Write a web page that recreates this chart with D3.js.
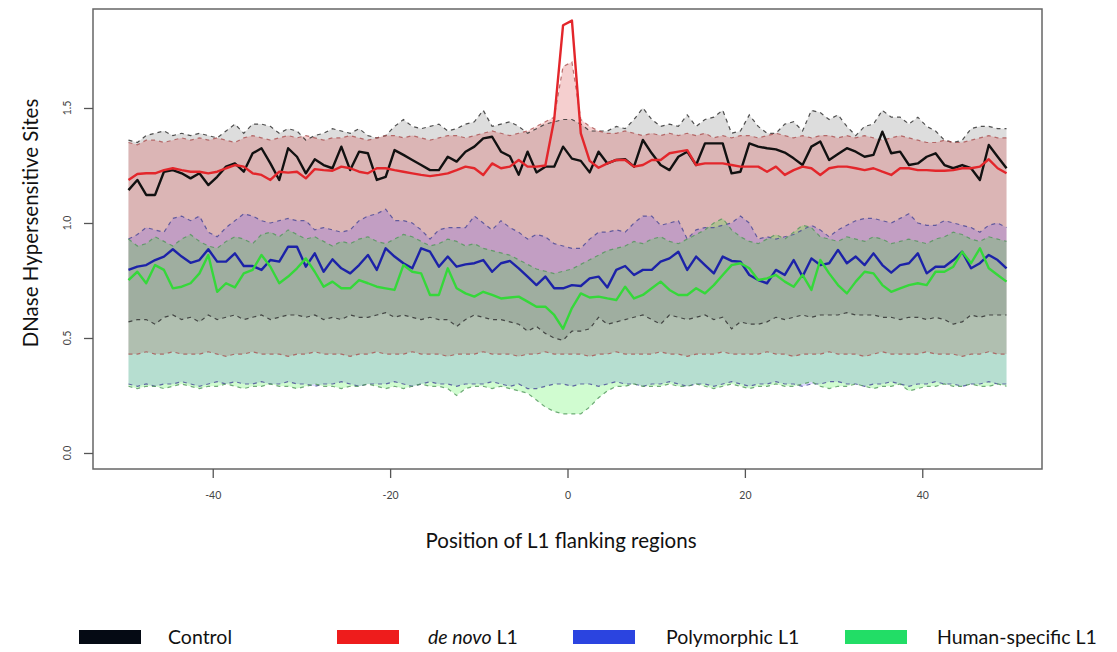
<!DOCTYPE html>
<html lang="en">
<head>
<meta charset="UTF-8">
<title>DNase Hypersensitive Sites</title>
<script src="https://d3js.org/d3.v7.min.js"></script>
<style>
  body { margin: 0; background: #fff; }
  text { font-family: Lato, "Open Sans", sans-serif; }
</style>
</head>
<body>
<script>
// positions of the 100 bins around the L1 insertion
const positions = d3.range(-49.5, 50, 1);

// mean signal per series
const controlMean = [
  1.143, 1.187, 1.122, 1.122, 1.223, 1.230, 1.216, 1.194, 1.216, 1.165,
  1.201, 1.245, 1.259, 1.223, 1.303, 1.325, 1.259, 1.187, 1.325, 1.288,
  1.216, 1.277, 1.252, 1.238, 1.332, 1.230, 1.310, 1.303, 1.187, 1.201,
  1.317, 1.296, 1.274, 1.252, 1.230, 1.230, 1.288, 1.267, 1.310, 1.332,
  1.368, 1.375, 1.310, 1.290, 1.210, 1.310, 1.220, 1.245, 1.245, 1.332,
  1.280, 1.270, 1.220, 1.310, 1.259, 1.274, 1.277, 1.245, 1.361, 1.303,
  1.252, 1.230, 1.288, 1.310, 1.252, 1.346, 1.346, 1.346, 1.216, 1.223,
  1.346, 1.332, 1.325, 1.320, 1.306, 1.281, 1.252, 1.332, 1.354, 1.274,
  1.300, 1.325, 1.310, 1.288, 1.296, 1.397, 1.303, 1.310, 1.252, 1.259,
  1.288, 1.303, 1.252, 1.238, 1.252, 1.238, 1.187, 1.339, 1.288, 1.238
];
const denovoMean = [
  1.187, 1.213, 1.216, 1.216, 1.230, 1.238, 1.230, 1.223, 1.223, 1.216,
  1.223, 1.238, 1.252, 1.245, 1.216, 1.209, 1.187, 1.223, 1.219, 1.223,
  1.194, 1.234, 1.230, 1.227, 1.245, 1.238, 1.223, 1.216, 1.238, 1.238,
  1.230, 1.223, 1.216, 1.209, 1.204, 1.209, 1.216, 1.230, 1.245, 1.238,
  1.209, 1.259, 1.238, 1.245, 1.274, 1.245, 1.245, 1.250, 1.450, 1.860,
  1.880, 1.390, 1.270, 1.240, 1.259, 1.274, 1.274, 1.245, 1.252, 1.274,
  1.274, 1.303, 1.310, 1.317, 1.252, 1.259, 1.259, 1.259, 1.252, 1.245,
  1.245, 1.245, 1.223, 1.245, 1.209, 1.230, 1.245, 1.238, 1.209, 1.238,
  1.245, 1.245, 1.238, 1.230, 1.238, 1.223, 1.209, 1.238, 1.238, 1.230,
  1.230, 1.227, 1.227, 1.230, 1.238, 1.238, 1.245, 1.277, 1.238, 1.216
];
const polyMean = [
  0.796, 0.810, 0.817, 0.839, 0.854, 0.886, 0.854, 0.827, 0.839, 0.886,
  0.832, 0.832, 0.868, 0.813, 0.813, 0.796, 0.839, 0.832, 0.897, 0.897,
  0.810, 0.868, 0.788, 0.842, 0.803, 0.781, 0.817, 0.861, 0.796, 0.890,
  0.854, 0.825, 0.803, 0.890, 0.875, 0.810, 0.854, 0.810, 0.820, 0.825,
  0.839, 0.788, 0.825, 0.835, 0.803, 0.767, 0.730, 0.767, 0.716, 0.716,
  0.730, 0.726, 0.759, 0.767, 0.720, 0.796, 0.813, 0.774, 0.796, 0.796,
  0.832, 0.846, 0.875, 0.796, 0.854, 0.817, 0.781, 0.854, 0.835, 0.832,
  0.774, 0.752, 0.738, 0.796, 0.774, 0.839, 0.767, 0.846, 0.817, 0.825,
  0.883, 0.825, 0.854, 0.817, 0.868, 0.817, 0.784, 0.817, 0.825, 0.868,
  0.781, 0.810, 0.810, 0.839, 0.875, 0.803, 0.825, 0.861, 0.839, 0.803
];
const humanMean = [
  0.752, 0.788, 0.738, 0.817, 0.796, 0.716, 0.723, 0.738, 0.781, 0.861,
  0.701, 0.738, 0.720, 0.781, 0.796, 0.861, 0.810, 0.738, 0.767, 0.803,
  0.846, 0.788, 0.723, 0.745, 0.716, 0.716, 0.752, 0.738, 0.723, 0.716,
  0.709, 0.817, 0.788, 0.781, 0.687, 0.687, 0.803, 0.716, 0.694, 0.680,
  0.701, 0.687, 0.672, 0.676, 0.680, 0.658, 0.636, 0.636, 0.600, 0.540,
  0.630, 0.694, 0.676, 0.680, 0.672, 0.665, 0.723, 0.672, 0.687, 0.716,
  0.745, 0.709, 0.687, 0.687, 0.716, 0.694, 0.730, 0.774, 0.817, 0.825,
  0.803, 0.752, 0.759, 0.774, 0.745, 0.723, 0.774, 0.709, 0.839, 0.781,
  0.730, 0.694, 0.745, 0.788, 0.781, 0.730, 0.701, 0.716, 0.730, 0.738,
  0.730, 0.788, 0.788, 0.810, 0.875, 0.825, 0.890, 0.803, 0.774, 0.745
];

// upper and lower band limits per series
const controlUpper = [
  1.36, 1.35, 1.38, 1.39, 1.40, 1.38, 1.39, 1.38, 1.39, 1.38,
  1.37, 1.40, 1.43, 1.39, 1.43, 1.43, 1.42, 1.39, 1.41, 1.40,
  1.36, 1.38, 1.39, 1.41, 1.40, 1.39, 1.41, 1.38, 1.37, 1.38,
  1.42, 1.45, 1.42, 1.41, 1.42, 1.43, 1.40, 1.41, 1.43, 1.44,
  1.49, 1.42, 1.43, 1.44, 1.42, 1.39, 1.41, 1.43, 1.44, 1.45,
  1.45, 1.43, 1.40, 1.40, 1.40, 1.42, 1.41, 1.45, 1.50, 1.45,
  1.42, 1.43, 1.42, 1.47, 1.42, 1.45, 1.46, 1.49, 1.39, 1.40,
  1.47, 1.42, 1.39, 1.39, 1.43, 1.44, 1.40, 1.49, 1.48, 1.45,
  1.47, 1.42, 1.38, 1.42, 1.43, 1.49, 1.46, 1.46, 1.43, 1.46,
  1.42, 1.40, 1.36, 1.35, 1.36, 1.41, 1.42, 1.42, 1.41, 1.41
];
const controlLower = [
  0.57, 0.58, 0.58, 0.56, 0.59, 0.60, 0.58, 0.59, 0.57, 0.60,
  0.58, 0.59, 0.60, 0.58, 0.59, 0.60, 0.58, 0.59, 0.60, 0.60,
  0.59, 0.60, 0.58, 0.59, 0.58, 0.60, 0.59, 0.59, 0.60, 0.61,
  0.59, 0.60, 0.59, 0.58, 0.59, 0.58, 0.58, 0.55, 0.58, 0.60,
  0.59, 0.58, 0.58, 0.57, 0.56, 0.53, 0.55, 0.52, 0.50, 0.49,
  0.53, 0.53, 0.54, 0.59, 0.56, 0.57, 0.58, 0.59, 0.60, 0.58,
  0.56, 0.60, 0.59, 0.58, 0.59, 0.60, 0.58, 0.59, 0.54, 0.57,
  0.56, 0.56, 0.57, 0.59, 0.58, 0.59, 0.60, 0.59, 0.60, 0.60,
  0.60, 0.61, 0.60, 0.60, 0.60, 0.59, 0.59, 0.58, 0.59, 0.59,
  0.58, 0.59, 0.58, 0.56, 0.57, 0.60, 0.59, 0.60, 0.60, 0.60
];
const denovoUpper = [
  1.35, 1.34, 1.36, 1.36, 1.35, 1.36, 1.37, 1.36, 1.37, 1.36,
  1.37, 1.36, 1.35, 1.37, 1.38, 1.37, 1.36, 1.37, 1.38, 1.37,
  1.38, 1.37, 1.36, 1.37, 1.37, 1.38, 1.37, 1.36, 1.37, 1.38,
  1.38, 1.37, 1.38, 1.37, 1.36, 1.37, 1.38, 1.38, 1.37, 1.38,
  1.39, 1.40, 1.39, 1.38, 1.39, 1.40, 1.42, 1.44, 1.46, 1.68,
  1.70, 1.45, 1.42, 1.40, 1.39, 1.39, 1.40, 1.39, 1.38, 1.39,
  1.38, 1.39, 1.38, 1.39, 1.38, 1.39, 1.37, 1.38, 1.37, 1.38,
  1.38, 1.37, 1.38, 1.39, 1.38, 1.37, 1.38, 1.37, 1.38, 1.38,
  1.37, 1.38, 1.37, 1.38, 1.37, 1.36, 1.37, 1.38, 1.37, 1.36,
  1.35, 1.35, 1.36, 1.35, 1.35, 1.36, 1.37, 1.38, 1.37, 1.37
];
const denovoLower = [
  0.43, 0.43, 0.44, 0.43, 0.43, 0.44, 0.43, 0.43, 0.43, 0.44,
  0.43, 0.42, 0.43, 0.43, 0.44, 0.43, 0.43, 0.43, 0.42, 0.43,
  0.43, 0.44, 0.43, 0.43, 0.43, 0.42, 0.43, 0.43, 0.44, 0.43,
  0.43, 0.43, 0.44, 0.43, 0.43, 0.43, 0.42, 0.43, 0.43, 0.43,
  0.44, 0.43, 0.43, 0.43, 0.42, 0.43, 0.43, 0.44, 0.43, 0.43,
  0.43, 0.43, 0.42, 0.43, 0.43, 0.44, 0.43, 0.43, 0.43, 0.43,
  0.44, 0.43, 0.43, 0.42, 0.43, 0.43, 0.43, 0.44, 0.43, 0.43,
  0.43, 0.43, 0.44, 0.43, 0.43, 0.42, 0.43, 0.43, 0.43, 0.44,
  0.43, 0.43, 0.43, 0.42, 0.43, 0.44, 0.43, 0.43, 0.43, 0.43,
  0.44, 0.43, 0.43, 0.43, 0.42, 0.43, 0.43, 0.44, 0.43, 0.43
];
const polyUpper = [
  0.93, 0.95, 0.98, 0.97, 0.96, 1.02, 1.03, 1.01, 1.03, 0.96,
  0.94, 0.98, 1.01, 1.04, 1.03, 1.01, 1.00, 1.01, 1.02, 1.01,
  1.01, 0.97, 0.98, 0.97, 0.96, 0.97, 1.01, 1.03, 1.04, 1.06,
  1.01, 1.01, 1.00, 0.97, 0.93, 0.97, 0.98, 0.98, 0.98, 1.03,
  1.00, 0.97, 1.01, 0.98, 0.96, 0.93, 0.95, 0.94, 0.91, 0.90,
  0.89, 0.89, 0.93, 0.96, 0.96, 0.97, 0.96, 1.00, 1.03, 1.03,
  0.99, 1.00, 1.01, 0.93, 0.97, 0.98, 0.98, 0.99, 1.00, 1.03,
  1.00, 0.93, 0.94, 0.93, 0.94, 0.95, 0.97, 0.99, 0.97, 0.94,
  0.97, 0.99, 1.01, 1.02, 1.02, 1.01, 1.00, 1.02, 1.04, 1.00,
  0.99, 0.99, 1.01, 1.00, 0.99, 0.98, 0.96, 0.99, 1.00, 0.98
];
const polyLower = [
  0.30, 0.29, 0.30, 0.29, 0.30, 0.30, 0.31, 0.30, 0.29, 0.30,
  0.31, 0.30, 0.31, 0.30, 0.30, 0.31, 0.30, 0.30, 0.31, 0.30,
  0.30, 0.29, 0.30, 0.30, 0.31, 0.30, 0.29, 0.30, 0.30, 0.30,
  0.31, 0.30, 0.29, 0.30, 0.31, 0.30, 0.30, 0.29, 0.30, 0.30,
  0.30, 0.31, 0.30, 0.29, 0.30, 0.28, 0.28, 0.29, 0.30, 0.30,
  0.29, 0.30, 0.30, 0.29, 0.30, 0.31, 0.30, 0.30, 0.29, 0.30,
  0.30, 0.31, 0.30, 0.29, 0.30, 0.30, 0.29, 0.30, 0.31, 0.30,
  0.29, 0.30, 0.30, 0.31, 0.30, 0.30, 0.29, 0.30, 0.30, 0.31,
  0.31, 0.30, 0.30, 0.29, 0.30, 0.30, 0.31, 0.30, 0.29, 0.30,
  0.30, 0.31, 0.30, 0.30, 0.29, 0.30, 0.30, 0.31, 0.30, 0.30
];
const humanUpper = [
  0.93, 0.90, 0.91, 0.94, 0.92, 0.90, 0.93, 0.95, 0.92, 0.90,
  0.89, 0.92, 0.94, 0.93, 0.91, 0.95, 0.96, 0.94, 0.97, 0.95,
  0.93, 0.94, 0.92, 0.90, 0.92, 0.91, 0.93, 0.94, 0.92, 0.91,
  0.93, 0.95, 0.94, 0.92, 0.90, 0.91, 0.93, 0.92, 0.90, 0.91,
  0.89, 0.88, 0.87, 0.86, 0.84, 0.82, 0.80, 0.79, 0.78, 0.79,
  0.80, 0.82, 0.84, 0.86, 0.88, 0.89, 0.90, 0.92, 0.91, 0.93,
  0.94, 0.92, 0.91, 0.93, 0.95, 0.97, 1.00, 1.02, 0.97, 0.94,
  0.92, 0.91, 0.93, 0.95, 0.93, 0.96, 0.99, 0.98, 0.94, 0.93,
  0.92, 0.94, 0.93, 0.92, 0.94, 0.93, 0.91, 0.92, 0.93, 0.92,
  0.91, 0.93, 0.94, 0.96, 0.95, 0.93, 0.92, 0.94, 0.93, 0.92
];
const humanLower = [
  0.29, 0.28, 0.29, 0.29, 0.28, 0.29, 0.30, 0.29, 0.28, 0.29,
  0.29, 0.30, 0.29, 0.28, 0.29, 0.29, 0.30, 0.29, 0.29, 0.28,
  0.29, 0.30, 0.29, 0.29, 0.28, 0.29, 0.29, 0.30, 0.29, 0.28,
  0.29, 0.28, 0.29, 0.30, 0.29, 0.29, 0.28, 0.25, 0.28, 0.29,
  0.29, 0.28, 0.29, 0.28, 0.27, 0.26, 0.23, 0.20, 0.18, 0.17,
  0.17, 0.17, 0.20, 0.24, 0.27, 0.29, 0.29, 0.30, 0.29, 0.29,
  0.29, 0.30, 0.29, 0.29, 0.30, 0.29, 0.28, 0.29, 0.30, 0.29,
  0.28, 0.29, 0.29, 0.30, 0.29, 0.29, 0.30, 0.31, 0.29, 0.28,
  0.29, 0.29, 0.30, 0.29, 0.28, 0.29, 0.29, 0.30, 0.27, 0.28,
  0.29, 0.29, 0.30, 0.29, 0.29, 0.30, 0.29, 0.29, 0.30, 0.29
];

const xTicks = [-40, -20, 0, 20, 40];
const yTicks = [0, 0.5, 1.0, 1.5];

// series in drawing order
const series = [
  { key: "control", mean: controlMean, upper: controlUpper, lower: controlLower,
    fill: "rgba(150,150,150,0.32)", dash: "rgba(50,50,50,0.85)", line: "#111111" },
  { key: "denovo", mean: denovoMean, upper: denovoUpper, lower: denovoLower,
    fill: "rgba(215,55,55,0.24)", dash: "rgba(170,80,80,0.8)", line: "#e3262b" },
  { key: "poly", mean: polyMean, upper: polyUpper, lower: polyLower,
    fill: "rgba(95,70,255,0.2)", dash: "rgba(70,70,150,0.8)", line: "#1c22a8" },
  { key: "human", mean: humanMean, upper: humanUpper, lower: humanLower,
    fill: "rgba(20,240,20,0.2)", dash: "rgba(80,150,90,0.8)", line: "#35d83a" }
];

const W = 1117, H = 652;
const svg = d3.select("body").append("svg")
    .attr("width", W)
    .attr("height", H);

const x = d3.scaleLinear().domain([-53.5, 53.5]).range([93, 1042]);
const y = d3.scaleLinear().domain([-0.0696, 1.9304]).range([469, 9]);

// shaded bands
const area = d3.area()
    .x((d, i) => x(positions[i]))
    .y0(d => y(d[0]))
    .y1(d => y(d[1]));

series.forEach(s => {
    svg.append("path")
        .datum(s.lower.map((v, i) => [v, s.upper[i]]))
        .attr("d", area)
        .attr("fill", s.fill);
});

// dashed band limits
const line = d3.line().x((d, i) => x(positions[i])).y(d => y(d));
series.forEach(s => {
    [s.upper, s.lower].forEach(arr => {
        svg.append("path")
            .datum(arr)
            .attr("d", line)
            .attr("fill", "none")
            .attr("stroke", s.dash)
            .attr("stroke-width", 1.2)
            .attr("stroke-dasharray", "4,4");
    });
});

// mean lines
series.forEach(s => {
    svg.append("path")
        .datum(s.mean)
        .attr("d", line)
        .attr("fill", "none")
        .attr("stroke", s.line)
        .attr("stroke-width", 2.4)
        .attr("stroke-linejoin", "round");
});

// plot frame
svg.append("rect")
    .attr("x", 93).attr("y", 9)
    .attr("width", 1042 - 93).attr("height", 469 - 9)
    .attr("fill", "none")
    .attr("stroke", "#666")
    .attr("stroke-width", 1.5);

// x axis
const xAxis = svg.append("g")
    .attr("transform", "translate(0,469)")
    .call(d3.axisBottom(x).tickValues(xTicks).tickSize(9).tickPadding(14)
        .tickFormat(d => d < 0 ? "-" + Math.abs(d) : d));
xAxis.select(".domain").remove();
xAxis.selectAll("line").attr("stroke", "#555").attr("stroke-width", 1.3);
xAxis.selectAll("text")
    .attr("font-family", "'Liberation Sans Narrow', 'Liberation Sans', sans-serif")
    .attr("font-size", 10.5)
    .attr("fill", "#444");

// y axis
const yAxis = svg.append("g")
    .attr("transform", "translate(93,0)")
    .call(d3.axisLeft(y).tickValues(yTicks).tickSize(9).tickFormat(""));
yAxis.select(".domain").remove();
yAxis.selectAll("line").attr("stroke", "#555").attr("stroke-width", 1.3);

svg.selectAll(".ytick")
    .data(yTicks)
    .enter().append("text")
    .attr("class", "ytick")
    .attr("transform", d => `translate(71,${y(d)}) rotate(-90)`)
    .attr("text-anchor", "middle")
    .attr("font-family", "'Liberation Sans Narrow', 'Liberation Sans', sans-serif")
    .attr("font-size", 10.5)
    .attr("fill", "#444")
    .text(d3.format(".1f"));

// axis titles
svg.append("text")
    .attr("x", 561).attr("y", 548)
    .attr("text-anchor", "middle")
    .attr("font-size", 20.5)
    .attr("fill", "#111")
    .text("Position of L1 flanking regions");

svg.append("text")
    .attr("transform", "translate(38,223) rotate(-90)")
    .attr("text-anchor", "middle")
    .attr("font-size", 20.5)
    .attr("fill", "#111")
    .text("DNase Hypersensitive Sites");

// legend
const legendItems = [
    { name: "Control", italic: "", color: "#050a14", bx: 79, tx: 168 },
    { name: " L1", italic: "de novo", color: "#ee1c1c", bx: 337, tx: 428 },
    { name: "Polymorphic L1", italic: "", color: "#2b44e0", bx: 573, tx: 666 },
    { name: "Human-specific L1", italic: "", color: "#22dd66", bx: 845, tx: 937 }
];

const leg = svg.selectAll(".legend")
    .data(legendItems)
    .enter().append("g")
    .attr("class", "legend");

leg.append("rect")
    .attr("x", d => d.bx).attr("y", 630)
    .attr("width", 62).attr("height", 14)
    .attr("fill", d => d.color);

const lt = leg.append("text")
    .attr("x", d => d.tx).attr("y", 644)
    .attr("font-size", 19.5)
    .attr("fill", "#111");
lt.append("tspan")
    .attr("font-style", "italic")
    .text(d => d.italic);
lt.append("tspan")
    .text(d => d.name);
</script>
</body>
</html>
